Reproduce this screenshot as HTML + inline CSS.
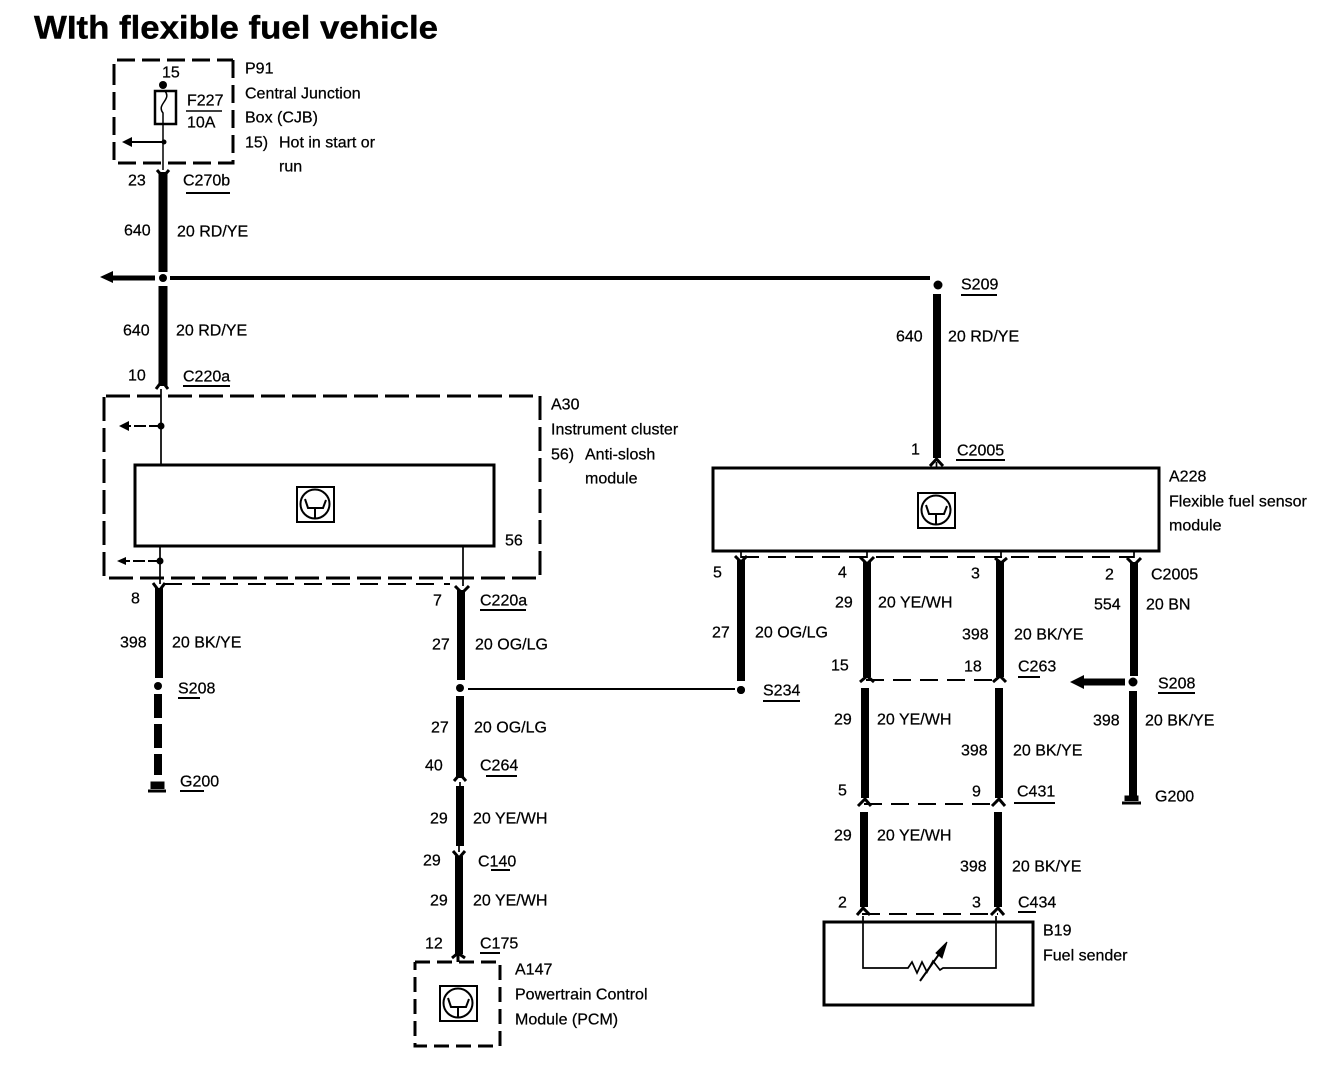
<!DOCTYPE html>
<html><head><meta charset="utf-8"><style>
html,body{margin:0;padding:0;background:#fff}
svg{display:block}
text{font-family:"Liberation Sans",sans-serif;font-size:16px;fill:#000;stroke:#000;stroke-width:.25px;transform:translateY(.5px)}
.w{stroke:#000;stroke-width:8;fill:none}
.t{stroke:#000;stroke-width:1.7;fill:none}
.d{stroke:#000;stroke-width:3;fill:none;stroke-dasharray:24 7}
.d2{stroke:#000;stroke-width:2;fill:none;stroke-dasharray:18 9}
.b{stroke:#000;stroke-width:3;fill:#fff}
.u{stroke:#000;stroke-width:2}
.c{stroke:#000;stroke-width:3;fill:none}
</style></head><body>
<svg width="1344" height="1070" viewBox="0 0 1344 1070" xmlns="http://www.w3.org/2000/svg">
<defs>
<g id="ic" fill="none" stroke="#000" stroke-width="2">
<rect x="-18" y="-18" width="37" height="35"/>
<circle cx="0" cy="-1" r="14.5"/>
<path d="M-10 -6 L-7 3 H8 L11 -5 M0 3 V13"/>
</g>
</defs>

<text x="34" y="38" style="font-size:32px;font-weight:bold;stroke-width:.4px" textLength="404" lengthAdjust="spacingAndGlyphs">WIth flexible fuel vehicle</text>

<!-- P91 -->
<path class="d" style="stroke-dasharray:18 7" d="M114 82 V60 H233 M233 60 V163 H114 V82"/>
<circle cx="163" cy="85" r="4"/>
<rect class="c" style="stroke-width:2.500" x="155" y="91" width="21" height="33"/>
<path d="M165 91 C172 100 156 104 163 113 V170" fill="none" stroke="#000" stroke-width="1.500"/>
<path d="M163 142 H130" class="t" style="stroke-width:2"/>
<path d="M122 142 L132 137 V147 Z"/>
<circle cx="164" cy="142" r="2.500"/>
<path d="M186 111 H222" stroke="#000" stroke-width="1.600"/>
<text x="187" y="105">F227</text>
<text x="187" y="127">10A</text>
<text x="162" y="77">15</text>
<text x="245" y="73">P91</text>
<text x="245" y="98">Central Junction</text>
<text x="245" y="122">Box (CJB)</text>
<text x="245" y="147">15)</text>
<text x="279" y="147">Hot in start or</text>
<text x="279" y="171">run</text>

<!-- main left wire -->
<path class="w" style="stroke-width:9" d="M163 172 V272 M163 286 V386"/>
<path d="M157 170 L163 177 L169 170" class="c"/>
<path d="M156 389 L162 381 L168 389" class="c"/>
<circle cx="163" cy="278" r="4"/>
<path d="M112 278 H155" stroke="#000" stroke-width="5"/>
<path d="M100 277 L113 271 V283 Z"/>
<path d="M170 278 H930" stroke="#000" stroke-width="4"/>
<circle cx="938" cy="285" r="4.500"/>
<path class="w" d="M937 294 V458"/>
<path d="M930 466 L936.500 459 L943 466" class="c"/>
<path class="t" d="M936.500 462 V467"/>

<text x="128" y="185">23</text>
<text x="183" y="185">C270b</text><path class="u" d="M186 193 H230"/>
<text x="124" y="235">640</text>
<text x="177" y="236">20 RD/YE</text>
<text x="123" y="335">640</text>
<text x="176" y="335">20 RD/YE</text>
<text x="128" y="380">10</text>
<text x="183" y="381">C220a</text><path class="u" d="M183 386 H230"/>
<text x="961" y="289">S209</text><path class="u" d="M961 295 H997"/>
<text x="896" y="341">640</text>
<text x="948" y="341">20 RD/YE</text>
<text x="911" y="454">1</text>
<text x="957" y="455">C2005</text><path class="u" d="M956 460 H1005"/>

<!-- A30 -->
<path class="d" d="M106 396 H540 V578 H104 V396"/>
<path d="M161 389 V465" class="t"/>
<circle cx="161" cy="426" r="3.500"/>
<path d="M161 426 H128" class="t" style="stroke-dasharray:12 3;stroke-width:2"/>
<path d="M119 426 L129 421 V431 Z"/>
<rect class="b" x="135" y="465" width="359" height="81"/>
<use href="#ic" x="315" y="505"/>
<text x="505" y="545">56</text>
<text x="551" y="409">A30</text>
<text x="551" y="434">Instrument cluster</text>
<text x="551" y="459">56)</text>
<text x="585" y="459">Anti-slosh</text>
<text x="585" y="483">module</text>
<path d="M160 546 V584 M463 546 V586" class="t"/>
<circle cx="160" cy="561" r="3.500"/>
<path d="M160 561 H122" class="t" style="stroke-dasharray:12 3;stroke-width:2"/>
<path d="M117 561 L126 557 V565 Z"/>
<path d="M164 584 H450" stroke="#000" stroke-width="2" stroke-dasharray="18 10"/>
<path d="M153 583 L159 591 L165 583 M455 586 L462 593 L469 586" class="c"/>

<!-- left drop -->
<path class="w" d="M159 588 V678"/>
<circle cx="158" cy="686" r="4"/>
<path class="w" d="M158 694 V775" style="stroke-dasharray:24 6"/>
<path d="M148 791 H166 M152 789 V783 H163 V789" stroke="#000" stroke-width="3" fill="#000"/>
<text x="131" y="603">8</text>
<text x="120" y="647">398</text>
<text x="172" y="647">20 BK/YE</text>
<text x="178" y="693">S208</text><path class="u" d="M178 698 H200"/>
<text x="180" y="786">G200</text><path class="u" d="M180 791 H204"/>

<!-- centre drop -->
<path class="w" d="M461 590 V680 M460 696 V778 M460 786 V846 M459 856 V954"/>
<circle cx="460" cy="688" r="4"/>
<path class="c" d="M454 781 L460 774 L466 781 M453 851 L459 858 L465 851"/>
<path class="t" d="M460 782 V786 M459 846 V852"/>
<path d="M468 689 H735" stroke="#000" stroke-width="2"/>
<circle cx="741" cy="690" r="4"/>
<text x="433" y="605">7</text>
<text x="480" y="605">C220a</text><path class="u" d="M480 610 H526"/>
<text x="432" y="649">27</text>
<text x="475" y="649">20 OG/LG</text>
<text x="431" y="732">27</text>
<text x="474" y="732">20 OG/LG</text>
<text x="425" y="770">40</text>
<text x="480" y="770">C264</text><path class="u" d="M486 776 H517"/>
<text x="430" y="823">29</text>
<text x="473" y="823">20 YE/WH</text>
<text x="423" y="865">29</text>
<text x="478" y="866">C140</text><path class="u" d="M491 870 H510"/>
<text x="430" y="905">29</text>
<text x="473" y="905">20 YE/WH</text>
<text x="425" y="948">12</text>
<text x="480" y="948">C175</text><path class="u" d="M480 953 H500"/>

<!-- A147 -->
<path class="d" d="M415 962 H500 V1046 H415 V962" style="stroke-dasharray:15 7"/>
<path d="M452 958 L458 953 L465 958 M458 954 V962" class="c"/>
<use href="#ic" x="458" y="1004"/>
<text x="515" y="974">A147</text>
<text x="515" y="999">Powertrain Control</text>
<text x="515" y="1024">Module (PCM)</text>

<!-- A228 -->
<rect class="b" x="713" y="468" width="446" height="83"/>
<use href="#ic" x="936" y="511"/>
<text x="1169" y="481">A228</text>
<text x="1169" y="506">Flexible fuel sensor</text>
<text x="1169" y="530">module</text>
<path class="d2" d="M741 557 H1134"/>
<path class="c" d="M735 556 L741 562 L747 556 M860 557 L867 564 L874 557 M995 558 L1001 563 L1007 558 M1127 558 L1134 565 L1141 558"/>
<path class="t" d="M741 551 V558 M867 551 V558 M1001 551 V558 M1134 551 V558"/>

<path class="w" d="M741 560 V681"/>
<path class="w" d="M867 562 V677 M865 688 V798 M864 812 V907"/>
<path class="w" d="M1000 561 V677 M999 688 V798 M998 812 V907"/>
<path class="w" d="M1134 562 V676 M1133 691 V798"/>
<circle cx="741" cy="690" r="4"/>
<circle cx="1133" cy="682" r="4.500"/>
<path d="M1082 682 H1125" stroke="#000" stroke-width="7"/>
<path d="M1070 682 L1084 675 V689 Z"/>
<path d="M1122 803 H1141 M1126 801 V797 H1137 V801" stroke="#000" stroke-width="3" fill="#000"/>

<path class="d2" d="M866 680 H1000 M864 804 H998 M862 914 H998"/>
<path class="c" d="M860 682 L867 676 L874 682 M993 682 L1000 676 L1006 682 M858 806 L865 799 L871 806 M992 806 L999 799 L1005 806 M857 915 L863 908 L870 915 M991 915 L998 908 L1004 915"/>

<text x="713" y="577">5</text>
<text x="838" y="577">4</text>
<text x="971" y="578">3</text>
<text x="1105" y="579">2</text>
<text x="1151" y="579">C2005</text>
<text x="835" y="607">29</text>
<text x="878" y="607">20 YE/WH</text>
<text x="1094" y="609">554</text>
<text x="1146" y="609">20 BN</text>
<text x="712" y="637">27</text>
<text x="755" y="637">20 OG/LG</text>
<text x="962" y="639">398</text>
<text x="1014" y="639">20 BK/YE</text>
<text x="831" y="670">15</text>
<text x="964" y="671">18</text>
<text x="1018" y="671">C263</text><path class="u" d="M1018 677 H1040"/>
<text x="763" y="695">S234</text><path class="u" d="M763 701 H800"/>
<text x="1158" y="688">S208</text><path class="u" d="M1158 693 H1195"/>
<text x="834" y="724">29</text>
<text x="877" y="724">20 YE/WH</text>
<text x="1093" y="725">398</text>
<text x="1145" y="725">20 BK/YE</text>
<text x="961" y="755">398</text>
<text x="1013" y="755">20 BK/YE</text>
<text x="838" y="795">5</text>
<text x="972" y="796">9</text>
<text x="1017" y="796">C431</text><path class="u" d="M1014 803 H1055"/>
<text x="1155" y="801">G200</text>
<text x="834" y="840">29</text>
<text x="877" y="840">20 YE/WH</text>
<text x="960" y="871">398</text>
<text x="1012" y="871">20 BK/YE</text>
<text x="838" y="907">2</text>
<text x="972" y="907">3</text>
<text x="1018" y="907">C434</text><path class="u" d="M1018 912 H1036"/>

<!-- B19 -->
<rect class="b" x="824" y="922" width="209" height="83"/>
<path class="t" d="M863 916 V968 H908 L912 962 L917 973 L922 962 L927 972 L933 961 L940 970 L943 968 H996 V916"/>
<path d="M920 981 L942 950" stroke="#000" stroke-width="2"/>
<path d="M947 942 L936 953 L942 958 Z" stroke="#000"/>
<text x="1043" y="935">B19</text>
<text x="1043" y="960">Fuel sender</text>
</svg>
</body></html>
